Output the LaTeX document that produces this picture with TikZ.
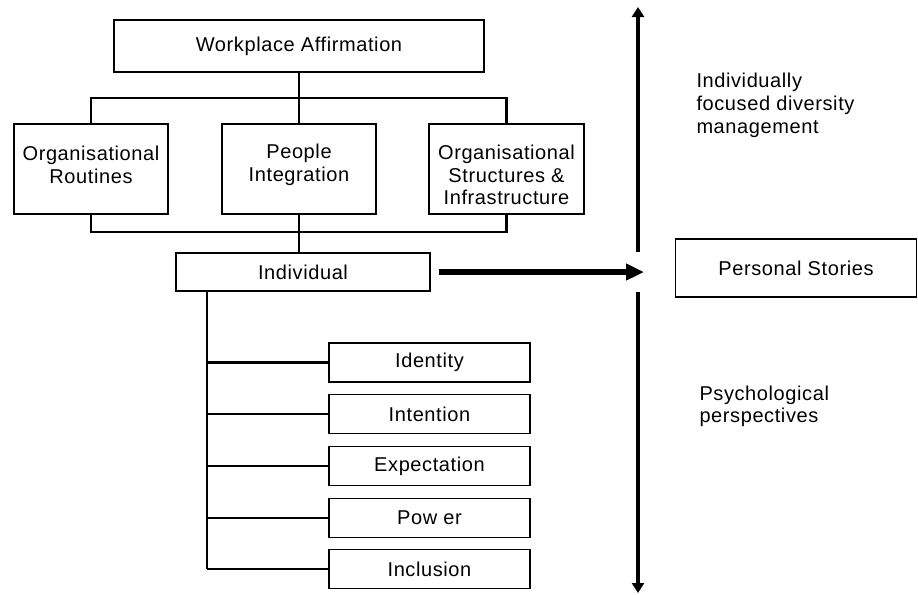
\documentclass[tikz,border=0pt]{standalone}
\usepackage{fontspec}
\setmainfont{Liberation Sans}[LetterSpace=3]
\usetikzlibrary{arrows.meta}

\tikzset{every picture/.style={line width=0.75pt}}

\begin{document}
\begin{tikzpicture}[x=0.75pt,y=0.75pt,yscale=-1,xscale=1,
  every node/.style={font=\fontsize{15}{17}\selectfont},
  box/.style={draw,line width=1pt,align=center,inner sep=0.75pt},
  boxtext/.style={align=center,inner sep=0.75pt},
  branch/.style={line width=1.75pt},
  bigarrow/.style={line width=4.5pt,-{Triangle[length=13.5pt,width=12pt]}},
  axis/.style={line width=3pt,-{Triangle[length=7.5pt,width=9pt]}}]
\useasboundingbox (0,0) rectangle (918,594);

%Boxes of the upper tree
\node[box,minimum width=277.5pt,minimum height=39pt] (wa) at (299,46) {Workplace Affirmation};
\node[box,minimum width=115.5pt,minimum height=67.5pt] (routines) at (91,169)
  [label={[boxtext,yshift=3pt]center:Organisational\\Routines}] {};
\node[box,minimum width=115.5pt,minimum height=67.5pt] (people) at (299,169)
  [label={[boxtext,yshift=3pt]center:People\\Integration}] {};
\node[box,minimum width=116.25pt,minimum height=67.5pt] (infra) at (506.5,169)
  [label={[boxtext,yshift=-4.5pt]center:Organisational\\Structures \&\\Infrastructure}] {};
\node[box,minimum width=190.5pt,minimum height=28.5pt] (indiv) at (303,272) {Individual};
\node[box,minimum width=180.75pt,minimum height=43.5pt] (stories) at (796,268) {Personal Stories};

%Boxes of the lower list
\foreach \n/\t/\y in {identity/Identity/362.5,intention/Intention/414,expectation/Expectation/466,power/Pow er/518,inclusion/Inclusion/569}
  \node[box,minimum width=150.75pt,minimum height=29.25pt] (\n) at (429.5,\y) {\t};

%Bars
\coordinate (topbar) at (299,98);
\coordinate (botbar) at (299,232);
\coordinate (spine) at (207,291);
\draw[branch] (wa.south) -- (people.north);
\draw[branch] (routines.north) |- (topbar) -| (infra.north);
\draw[branch] (routines.south) |- (botbar) -| (infra.south);
\draw[branch] (people.south) -- (people.south |- indiv.north);
\draw[branch] (spine) -- (spine |- inclusion.west);
\foreach \n in {identity,intention,expectation,power,inclusion}
  \draw[branch] (spine |- \n.west) -- (\n.west);

%Arrows
\coordinate (tip) at (644,272);
\coordinate (axtop) at (638,7);
\coordinate (axhi) at (638,252);
\coordinate (axlo) at (638,292);
\coordinate (axbot) at (638,593);
\draw[bigarrow,shorten <=6pt] (indiv.east |- tip) -- (tip);
\draw[axis] (axhi) -- (axtop);
\draw[axis] (axlo) -- (axbot);

% Text Node
\node[anchor=north west,align=left,inner sep=0pt] (upper) at (696,73) {Individually\\focused diversity\\management};
% Text Node
\node[anchor=north west,align=left,inner sep=0pt] (lower) at (699,385) {Psychological\\perspectives};

\end{tikzpicture}
\end{document}
